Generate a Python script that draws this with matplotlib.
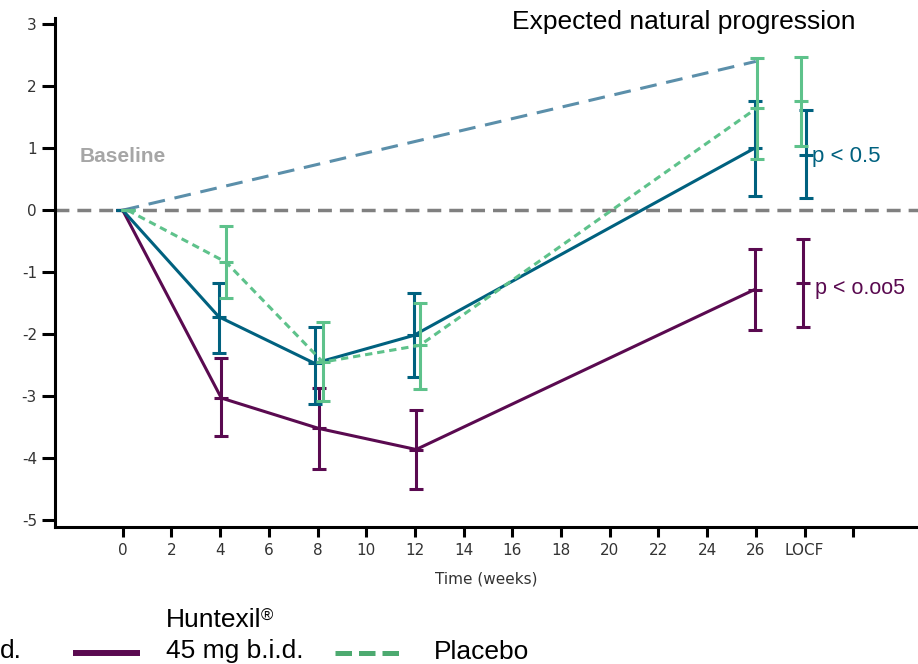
import matplotlib
matplotlib.use("Agg")
import matplotlib.pyplot as plt
from matplotlib.lines import Line2D

# ---------------- data ----------------
timepoints = [0, 4, 8, 12, 26, 28]          # 28 = LOCF column
tick_positions = [0, 2, 4, 6, 8, 10, 12, 14, 16, 18, 20, 22, 24, 26, 28, 30]
tick_labels = ["0", "2", "4", "6", "8", "10", "12", "14", "16", "18", "20",
               "22", "24", "26", "LOCF", ""]
y_ticks = [-5, -4, -3, -2, -1, 0, 1, 2, 3]

blue_mean = [0, -1.72, -2.47, -2.02, 1.00, 0.89]
blue_lo = [0, -2.30, -3.12, -2.69, 0.23, 0.20]
blue_hi = [0, -1.17, -1.88, -1.34, 1.76, 1.61]

purple_mean = [0, -3.03, -3.52, -3.86, -1.28, -1.18]
purple_lo = [0, -3.65, -4.17, -4.50, -1.94, -1.89]
purple_hi = [0, -2.38, -2.86, -3.23, -0.63, -0.47]

green_mean = [0, -0.84, -2.45, -2.18, 1.65, 1.76]
green_lo = [0, -1.42, -3.08, -2.88, 0.83, 1.04]
green_hi = [0, -0.25, -1.80, -1.50, 2.46, 2.47]

expected_x = [0, 26]
expected_y = [0, 2.40]

# ---------------- style ----------------
BLUE = "#00617F"
PURPLE = "#5A0A50"
GREEN = "#5EC28B"
GREEN_LEG = "#4DAA70"
EXP = "#5B8FAA"
GREY = "#808080"

dodge_blue = [0, -0.05, -0.12, -0.05, -0.05, 0.05]
dodge_purple = [0, 0.05, 0.05, 0.05, -0.05, -0.05]
dodge_green = [0.2, 0.25, 0.22, 0.2, 0.05, -0.15]

W, H = 918, 664
fig = plt.figure(figsize=(W / 100, H / 100), dpi=100)
ax = fig.add_axes([55 / W, 137 / H, 863 / W, 509 / H])
ax.set_xlim(-2.78, 32.66)
ax.set_ylim(-5.11, 3.10)

LW = 2.2

# zero line
ax.axhline(0, color=GREY, lw=2.5, dashes=(4, 2.3), zorder=1)
# expected natural progression
ax.plot(expected_x, expected_y, color=EXP, lw=2.2, dashes=(5.5, 3.2), zorder=2)


def series(mean, lo, hi, dodge, color, dashes=None, z=3):
    xs = [t + d for t, d in zip(timepoints, dodge)]
    n_line = 5
    if dashes is None:
        ax.plot(xs[:n_line], mean[:n_line], color=color, lw=LW, zorder=z,
                solid_capstyle="butt")
    else:
        ax.plot(xs[:n_line], mean[:n_line], color=color, lw=LW, zorder=z,
                dashes=dashes)
    err = [[m - l for m, l in zip(mean, lo)], [h - m for m, h in zip(mean, hi)]]
    ax.errorbar(xs, mean, yerr=err, fmt="none", ecolor=color, elinewidth=LW,
                capsize=5.2, capthick=LW, zorder=z + 0.5)
    ax.plot(xs, mean, ls="none", marker="_", ms=10.5, mew=LW, color=color,
            zorder=z + 0.6)


series(purple_mean, purple_lo, purple_hi, dodge_purple, PURPLE, z=3)
series(blue_mean, blue_lo, blue_hi, dodge_blue, BLUE, z=4)
series(green_mean, green_lo, green_hi, dodge_green, GREEN, dashes=(2.4, 1.6), z=5)

# axes styling
for s in ["top", "right"]:
    ax.spines[s].set_visible(False)
for s in ["left", "bottom"]:
    ax.spines[s].set_linewidth(2.2)
    ax.spines[s].set_color("black")

ax.set_xticks(tick_positions)
ax.set_xticklabels(tick_labels)
ax.set_yticks(y_ticks)
ax.set_yticklabels([str(v) for v in y_ticks])
ax.tick_params(axis="y", length=9.5, width=2.2, pad=3.5, labelsize=11,
               labelcolor="#333333", direction="out")
ax.tick_params(axis="x", length=7, width=2.2, pad=4.5, labelsize=11,
               labelcolor="#333333", direction="out")
ax.set_xlabel("Time (weeks)", fontsize=11, color="#333333", labelpad=10)

TXT = "Liberation Sans"
ax.text(16.0, 3.03, "Expected natural progression", fontsize=19, family=TXT,
        color="black", va="center", ha="left")
ax.text(-1.75, 0.86, "Baseline", fontsize=15, family=TXT, weight="bold",
        color="#A6A6A6", va="center", ha="left")
ax.text(28.3, 0.86, "p < 0.5", fontsize=16, family=TXT, color=BLUE,
        va="center", ha="left")
ax.text(28.43, -1.27, "p < o.oo5", fontsize=15.5, family=TXT, color=PURPLE,
        va="center", ha="left")

# ---------------- legend (partially cropped, as in reference) ----------------
def fx(px):
    return px / W


def fy(py):
    return 1 - py / H


fig.text(fx(0), fy(658), "d.", fontsize=19, family=TXT, ha="left",
         va="baseline")
fig.add_artist(Line2D([fx(73), fx(140)], [fy(653), fy(653)], color=PURPLE,
                      lw=4.3, solid_capstyle="butt", transform=fig.transFigure))
t_hunt = fig.text(fx(166), fy(627), "Huntexil", fontsize=19, family=TXT,
                  ha="left", va="baseline")
fig.text(fx(261), fy(621), "®", fontsize=12, family=TXT, ha="left",
         va="baseline")
fig.text(fx(166), fy(658), "45 mg b.i.d.", fontsize=19, family=TXT,
         ha="left", va="baseline")
fig.add_artist(Line2D([fx(335), fx(402)], [fy(653), fy(653)], color=GREEN_LEG,
                      lw=3.6, dashes=(3.3, 1.4), transform=fig.transFigure))
fig.text(fx(434), fy(659), "Placebo", fontsize=19, family=TXT, ha="left",
         va="baseline")

fig.savefig("out.png", dpi=100)
